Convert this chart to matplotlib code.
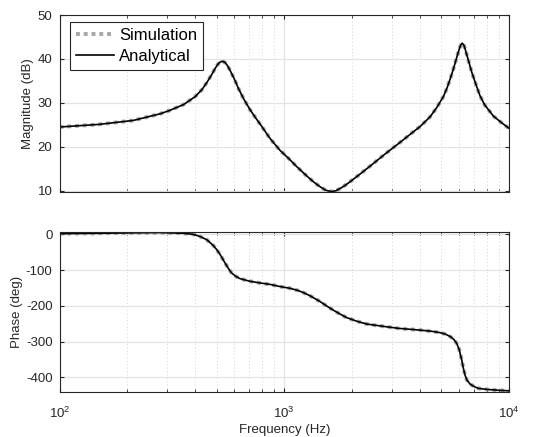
import numpy as np
import matplotlib.pyplot as plt
from matplotlib.ticker import LogLocator, NullFormatter

plt.rcParams['font.family'] = ['Liberation Sans', 'DejaVu Sans']
plt.rcParams['axes.unicode_minus'] = False

# Magnitude response
mag_freq = [100, 150, 213, 280, 310, 356, 401, 430, 452, 475, 492, 505, 515, 530,
            545, 560, 574, 600, 625, 660, 705, 750, 790, 864, 957, 1043, 1130,
            1250, 1350, 1443, 1530, 1620, 1700, 1800, 1900, 2028, 2200, 2409,
            2800, 3273, 3750, 4020, 4450, 4766, 5100, 5300, 5500, 5646, 5850,
            6000, 6100, 6194, 6300, 6400, 6550, 6824, 7100, 7430, 7800, 8520,
            9200, 10000]
mag_db = [24.5, 25.1, 26.0, 27.5, 28.3, 29.6, 31.4, 33.0, 34.6, 36.4, 37.8, 38.7,
          39.2, 39.5, 39.2, 38.4, 37.4, 35.4, 33.3, 30.9, 28.4, 26.4, 24.8, 21.9,
          19.2, 17.4, 15.6, 13.5, 12.0, 10.9, 10.1, 9.8, 10.0, 10.7, 11.5, 12.6,
          14.0, 15.6, 18.3, 21.0, 23.4, 24.6, 26.8, 28.9, 31.4, 33.4, 35.8, 37.6,
          40.3, 42.2, 43.2, 43.6, 43.1, 42.0, 40.2, 37.0, 34.4, 31.6, 29.5, 27.0,
          25.6, 24.2]

# Phase response
ph_freq = [100, 150, 200, 280, 356, 394, 422, 452, 483, 501, 520, 545, 565, 583,
           610, 636, 700, 780, 864, 957, 1061, 1150, 1217, 1303, 1443, 1540,
           1652, 1770, 1896, 2100, 2328, 2800, 3222, 4020, 4500, 4930, 5200,
           5474, 5680, 5848, 6000, 6162, 6260, 6373, 6500, 6710, 7000, 7300,
           8000, 8820, 10000]
ph_deg = [2, 3, 4, 5, 3, 0, -6, -15, -31, -43, -58, -80, -96, -108, -118, -124,
          -131, -136, -140, -146, -151, -157, -163, -172, -188, -200, -212, -223,
          -233, -243, -251, -258, -263, -268, -271, -275, -279, -286, -294, -305,
          -322, -352, -374, -394, -408, -419, -426, -431, -434, -436, -438]

fig = plt.figure(figsize=(5.39, 4.37), dpi=100)
ax1 = fig.add_axes([0.1104, 0.5606, 0.834, 0.405])
ax2 = fig.add_axes([0.1104, 0.1023, 0.834, 0.366])

sim_style = dict(color='#a6a6a6', linestyle=(0, (1, 1)), linewidth=2.8)
ana_style = dict(color='black', linewidth=1.2)

ax1.semilogx(mag_freq, mag_db, label='Simulation', **sim_style)
ax1.semilogx(mag_freq, mag_db, label='Analytical', **ana_style)
ax2.semilogx(ph_freq, ph_deg, **sim_style)
ax2.semilogx(ph_freq, ph_deg, **ana_style)

for ax in (ax1, ax2):
    ax.set_xlim(100, 10000)
    ax.xaxis.set_major_locator(LogLocator(base=10, numticks=5))
    ax.xaxis.set_minor_locator(LogLocator(base=10, subs=np.arange(2, 10), numticks=20))
    ax.xaxis.set_minor_formatter(NullFormatter())
    ax.grid(True, which='major', color='#e3e3e3', linewidth=0.9)
    ax.grid(True, which='minor', axis='x', color='#d6d6d6', linestyle=(0, (1, 2.5)), linewidth=0.7)
    ax.set_axisbelow(True)
    ax.tick_params(which='both', direction='in', top=True, right=True,
                   colors='#262626', labelsize=9.5, labelcolor='#262626')
    ax.tick_params(which='major', length=3)
    ax.tick_params(which='minor', length=2)
    ax.tick_params(axis='x', which='major', pad=10)
    ax.tick_params(axis='y', which='major', pad=5)
    for s in ax.spines.values():
        s.set_color('#262626')
        s.set_linewidth(0.8)

ax1.set_ylim(9.7, 50)
ax1.set_yticks([10, 20, 30, 40, 50])
ax1.tick_params(axis='x', labelbottom=False)
ax1.set_ylabel('Magnitude (dB)', fontsize=9.5, color='#262626', labelpad=3)

ax2.set_ylim(-442, 5.6)
ax2.set_yticks([0, -100, -200, -300, -400])
ax2.set_ylabel('Phase (deg)', fontsize=9.5, color='#262626', labelpad=2)
ax2.set_xlabel('Frequency (Hz)', fontsize=9.5, color='#262626', labelpad=2)

leg = ax1.legend(loc='upper left', bbox_to_anchor=(0.023, 0.96), fontsize=12,
                 fancybox=False, edgecolor='#262626', framealpha=1,
                 handlelength=2.3, borderpad=0.35, labelspacing=0.38,
                 handletextpad=0.3, borderaxespad=0.0)
leg.get_frame().set_linewidth(0.8)

fig.savefig('out.png', dpi=100)
